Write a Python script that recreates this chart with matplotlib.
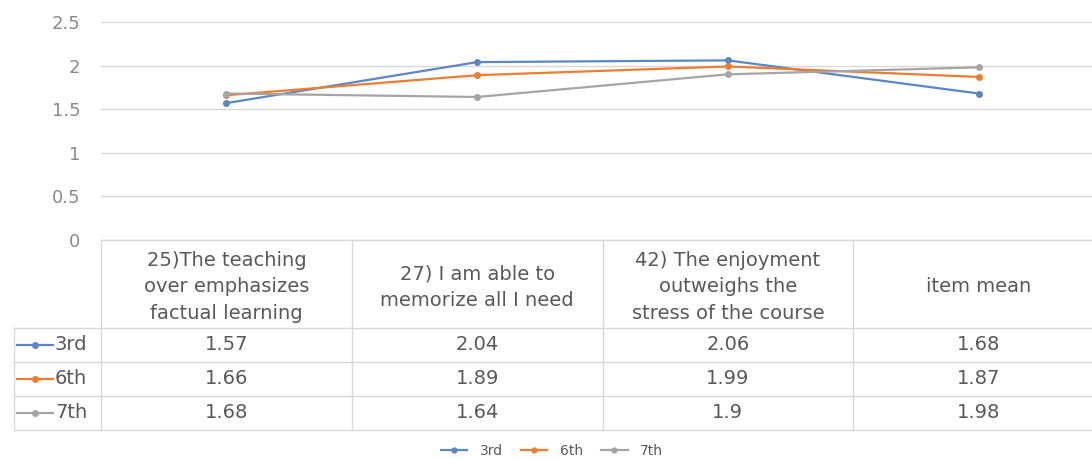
import matplotlib.pyplot as plt
from matplotlib.lines import Line2D
from matplotlib.transforms import blended_transform_factory
import numpy as np

plt.rcParams['font.family'] = ['DejaVu Sans']

categories = ["25)The teaching\nover emphasizes\nfactual learning",
              "27) I am able to\nmemorize all I need",
              "42) The enjoyment\noutweighs the\nstress of the course",
              "item mean"]
series_names = ["3rd", "6th", "7th"]
values_3rd = [1.57, 2.04, 2.06, 1.68]
values_6th = [1.66, 1.89, 1.99, 1.87]
values_7th = [1.68, 1.64, 1.9, 1.98]
value_labels = [["1.57", "2.04", "2.06", "1.68"],
                ["1.66", "1.89", "1.99", "1.87"],
                ["1.68", "1.64", "1.9", "1.98"]]
colors = ['#5B87C5', '#ED7D31', '#A5A5A5']
yticks = [0, 0.5, 1, 1.5, 2, 2.5]
ytick_labels = ["0", "0.5", "1", "1.5", "2", "2.5"]

W, H = 1092, 459
fig = plt.figure(figsize=(W / 100, H / 100), dpi=100)
# axes in pixel layout
left, right, top, bottom = 101, 1104, 22, 240
ax = fig.add_axes([left / W, 1 - bottom / H, (right - left) / W, (bottom - top) / H])

x = np.arange(len(categories))
all_values = [values_3rd, values_6th, values_7th]
for vals, c, name in zip(all_values, colors, series_names):
    ax.plot(x, vals, color=c, lw=1.6, marker='o', ms=4, label=name, clip_on=False)

ax.set_xlim(-0.5, len(categories) - 0.5)
ax.set_ylim(0, 2.5)
ax.set_yticks(yticks)
ax.set_yticklabels(ytick_labels)
ax.set_xticks([])
ax.tick_params(axis='y', length=0, pad=15, labelsize=13, labelcolor='#8a8a8a')
ax.grid(axis='y', color='#D9D9D9', lw=1)
for s in ax.spines.values():
    s.set_visible(False)
ax.set_axisbelow(True)

grid_c = '#D9D9D9'
text_c = '#595959'
fs = 14
tr = blended_transform_factory(ax.transData, fig.transFigure)


def fy(py):
    return 1 - py / H


def fx(px):
    return px / W


# table geometry (pixels)
header_top, header_bot = 240, 328
row_edges = [328, 362, 396, 430]
row_left = 14

# vertical lines of category columns
for b in np.arange(len(categories) + 1) - 0.5:
    fig.add_artist(Line2D([b, b], [fy(header_top), fy(row_edges[-1])],
                          transform=tr, color=grid_c, lw=1))
# horizontal lines
fig.add_artist(Line2D([-0.5, 3.5], [fy(header_top)] * 2, transform=tr, color=grid_c, lw=1))
for py in row_edges:
    fig.add_artist(Line2D([fx(row_left), fx(right)], [fy(py)] * 2,
                          transform=fig.transFigure, color=grid_c, lw=1))
fig.add_artist(Line2D([fx(row_left)] * 2, [fy(row_edges[0]), fy(row_edges[-1])],
                      transform=fig.transFigure, color=grid_c, lw=1))

# header texts
for i, cat in enumerate(categories):
    fig.text(x[i], fy(287), cat, transform=tr,
             ha='center', va='center', fontsize=fs, color=text_c, linespacing=1.5)

# rows
for r, (name, c) in enumerate(zip(series_names, colors)):
    yc = fy((row_edges[r] + row_edges[r + 1]) / 2)
    fig.add_artist(Line2D([fx(17), fx(53)], [yc, yc], transform=fig.transFigure,
                          color=c, lw=1.6))
    fig.add_artist(Line2D([fx(35)], [yc], transform=fig.transFigure, color=c,
                          marker='o', ms=4))
    fig.text(fx(55), yc, name, ha='left', va='center', fontsize=fs, color=text_c)
    for i in range(len(categories)):
        fig.text(x[i], yc, value_labels[r][i], transform=tr, ha='center', va='center',
                 fontsize=fs, color=text_c)

# legend
handles = [Line2D([], [], color=c, lw=1.6, marker='o', ms=3.5) for c in colors]
fig.legend(handles, series_names, loc='center', bbox_to_anchor=(fx(552), fy(451)),
           ncol=3, frameon=False, fontsize=10, labelcolor=text_c, handlelength=1.9,
           handletextpad=0.9, columnspacing=1.3)

fig.savefig('out.png', dpi=100)
